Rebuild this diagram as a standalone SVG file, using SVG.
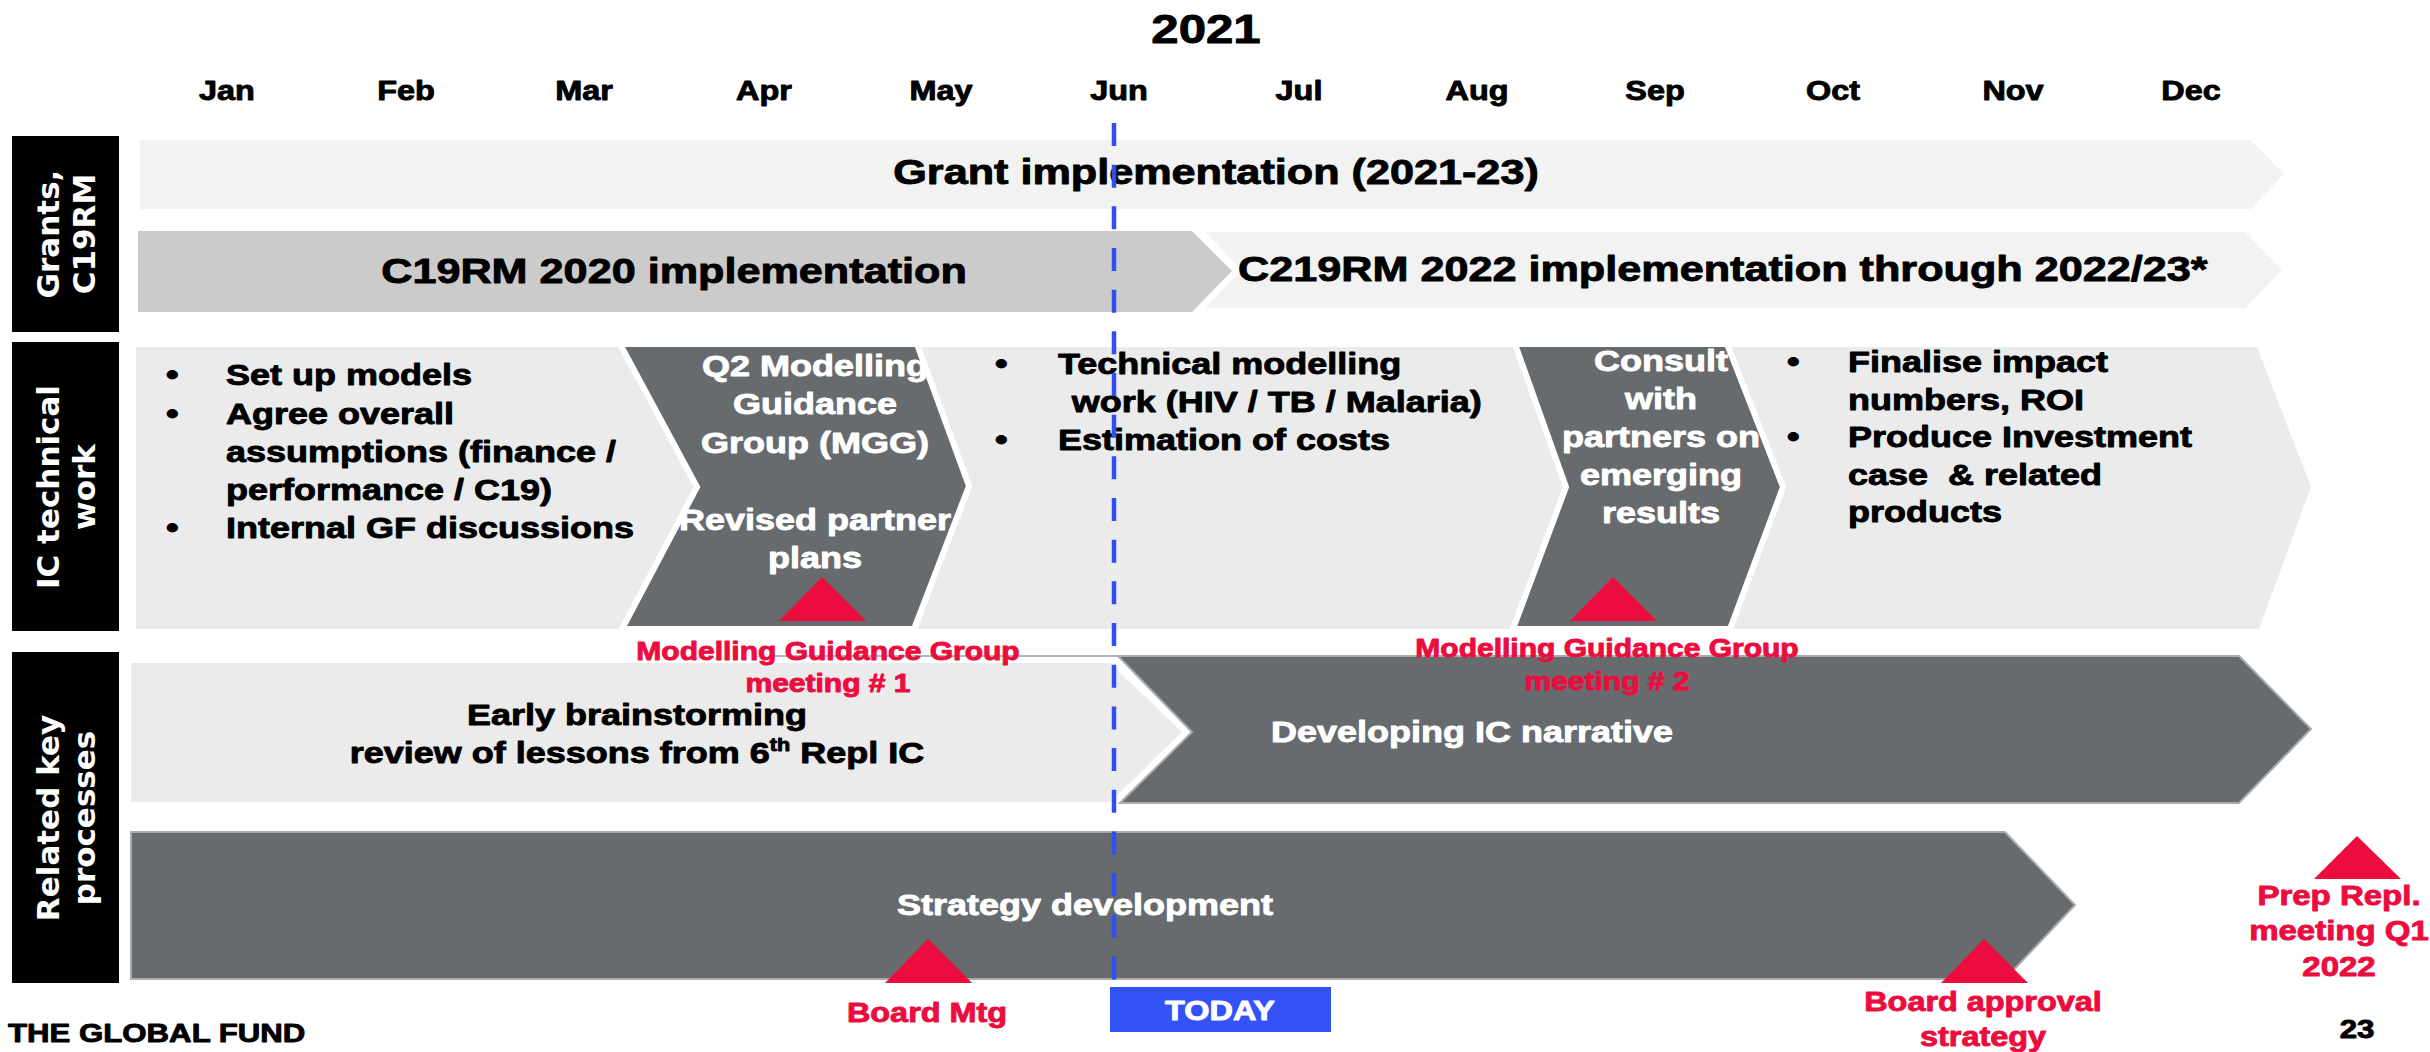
<svg xmlns="http://www.w3.org/2000/svg" width="2430" height="1052" viewBox="0 0 2430 1052">
<style>
.t{font-family:"Liberation Sans",Arial,sans-serif;font-weight:bold;stroke-width:0.9px;stroke-linejoin:round;}
.k{fill:#000;stroke:#000;}
.w{fill:#fff;stroke:#fff;}
.r{fill:#ec0c3e;stroke:#ec0c3e;}
.v{font-family:"DejaVu Sans",Verdana,sans-serif;font-weight:bold;font-size:31px;fill:#fff;}
.lbl{fill:#000;}
.lt{fill:#f2f2f2;}
.lt2{fill:#ebebeb;}
.md{fill:#cbcbcb;}
.chev{fill:#686b6e;stroke:#fff;stroke-width:6;stroke-linejoin:miter;}
.dka{fill:#686b6e;stroke:#a9abad;stroke-width:2;}
.tri{fill:#ec0c3e;}
.m{font-size:27px;}
</style>
<rect width="2430" height="1052" fill="#fff"/>

<g id="header">
<text class="t k" font-size="41" text-anchor="middle" transform="translate(1206,43) scale(1.2,1)">2021</text>
<g class="t k m" text-anchor="middle">
<text transform="translate(227,100) scale(1.2,1)">Jan</text>
<text transform="translate(406,100) scale(1.2,1)">Feb</text>
<text transform="translate(584,100) scale(1.2,1)">Mar</text>
<text transform="translate(764,100) scale(1.2,1)">Apr</text>
<text transform="translate(941,100) scale(1.2,1)">May</text>
<text transform="translate(1119,100) scale(1.2,1)">Jun</text>
<text transform="translate(1299,100) scale(1.2,1)">Jul</text>
<text transform="translate(1477,100) scale(1.2,1)">Aug</text>
<text transform="translate(1655,100) scale(1.2,1)">Sep</text>
<text transform="translate(1833,100) scale(1.2,1)">Oct</text>
<text transform="translate(2013,100) scale(1.2,1)">Nov</text>
<text transform="translate(2191,100) scale(1.2,1)">Dec</text>
</g>
</g>

<g id="label-grants">
<rect class="lbl" x="12" y="136" width="107" height="196"/>
<text class="v" text-anchor="middle" transform="translate(66,234) rotate(-90)"><tspan x="0" y="-7">Grants,</tspan><tspan x="0" y="29">C19RM</tspan></text>
</g>
<g id="label-ic">
<rect class="lbl" x="12" y="342" width="107" height="289"/>
<text class="v" text-anchor="middle" transform="translate(66,487) rotate(-90)"><tspan x="0" y="-7">IC technical</tspan><tspan x="0" y="29">work</tspan></text>
</g>
<g id="label-related">
<rect class="lbl" x="12" y="652" width="107" height="331"/>
<text class="v" text-anchor="middle" transform="translate(66,818) rotate(-90)"><tspan x="0" y="-7">Related key</tspan><tspan x="0" y="29">processes</tspan></text>
</g>

<g id="grant-implementation">
<polygon class="lt" points="140,140 2251,140 2284,174 2251,209 140,209"/>
<text class="t k" font-size="36" text-anchor="middle" transform="translate(1216,184) scale(1.2,1)">Grant implementation (2021-23)</text>
</g>

<g id="c19rm-2020">
<polygon class="md" points="138,231 1192,231 1232,271 1192,312 138,312"/>
<text class="t k" font-size="36" text-anchor="middle" transform="translate(674,283) scale(1.2,1)">C19RM 2020 implementation</text>
</g>

<g id="c219rm-2022">
<polygon class="lt" points="1205,232 2245,232 2282,270 2245,308 1205,308 1242,270"/>
<text class="t k" font-size="36" transform="translate(1238,281) scale(1.2,1)">C219RM 2022 implementation through 2022/23*</text>
</g>

<g id="ic-background">
<polygon class="lt2" points="136,347 2257,347 2311,487 2259,629 136,629"/>
</g>

<g id="ic-setup">
<text class="t k" font-size="30" transform="translate(166,0) scale(1.2,1)"><tspan x="0" y="385">•</tspan><tspan x="0" y="424">•</tspan><tspan x="0" y="538">•</tspan></text>
<text class="t k" font-size="30" transform="translate(226,0) scale(1.2,1)"><tspan x="0" y="385">Set up models</tspan><tspan x="0" y="424">Agree overall</tspan><tspan x="0" y="462">assumptions (finance /</tspan><tspan x="0" y="500">performance / C19)</tspan><tspan x="0" y="538">Internal GF discussions</tspan></text>
</g>

<g id="ic-mgg">
<polygon class="chev" points="620,344 917,344 969,486 914,629 622,629 697,487"/>
<text class="t w" font-size="30" text-anchor="middle" transform="translate(815,0) scale(1.2,1)"><tspan x="0" y="376">Q2 Modelling</tspan><tspan x="0" y="414">Guidance</tspan><tspan x="0" y="453">Group (MGG)</tspan><tspan x="0" y="530">Revised partner</tspan><tspan x="0" y="568">plans</tspan></text>
<polygon class="tri" points="822,577 866,621 779,621"/>
</g>

<g id="ic-modelling">
<text class="t k" font-size="30" transform="translate(995,0) scale(1.2,1)"><tspan x="0" y="374">•</tspan><tspan x="0" y="450">•</tspan></text>
<text class="t k" font-size="30" transform="translate(1058,0) scale(1.2,1)"><tspan x="0" y="374">Technical modelling</tspan><tspan x="11.5" y="412">work (HIV / TB / Malaria)</tspan><tspan x="0" y="450">Estimation of costs</tspan></text>
</g>

<g id="ic-consult">
<polygon class="chev" points="1515,344 1727,344 1783,487 1730,629 1513,629 1566,487"/>
<text class="t w" font-size="30" text-anchor="middle" transform="translate(1661,0) scale(1.2,1)"><tspan x="0" y="371">Consult</tspan><tspan x="0" y="409">with</tspan><tspan x="0" y="447">partners on</tspan><tspan x="0" y="485">emerging</tspan><tspan x="0" y="523">results</tspan></text>
<polygon class="tri" points="1613,577 1657,621 1570,621"/>
</g>

<g id="ic-finalise">
<text class="t k" font-size="30" transform="translate(1787,0) scale(1.2,1)"><tspan x="0" y="372">•</tspan><tspan x="0" y="447">•</tspan></text>
<text class="t k" font-size="30" transform="translate(1848,0) scale(1.2,1)"><tspan x="0" y="372">Finalise impact</tspan><tspan x="0" y="410">numbers, ROI</tspan><tspan x="0" y="447">Produce Investment</tspan><tspan x="0" y="485">case&#160; &amp; related</tspan><tspan x="0" y="522">products</tspan></text>
</g>

<g id="early-brainstorming">
<polygon class="lt2" points="131,663 1110,663 1182,732 1110,802 131,802"/>
<text class="t k" font-size="30" text-anchor="middle" transform="translate(637,0) scale(1.2,1)"><tspan x="0" y="725">Early brainstorming</tspan><tspan x="0" y="763">review of lessons from 6<tspan font-size="18" dy="-12">th</tspan><tspan dy="12"> Repl IC</tspan></tspan></text>
</g>

<g id="developing-narrative">
<line x1="770" y1="656" x2="1118" y2="656" stroke="#b4b6b8" stroke-width="2"/>
<polygon class="dka" points="1118,656 2239,656 2311,729 2239,803 1120,803 1192,732"/>
<text class="t w" font-size="30" transform="translate(1271,742) scale(1.2,1)">Developing IC narrative</text>
</g>

<g id="mgg-meeting-1">
<text class="t r" font-size="25" text-anchor="middle" transform="translate(828,0) scale(1.2,1)"><tspan x="0" y="660">Modelling Guidance Group</tspan><tspan x="0" y="692">meeting # 1</tspan></text>
</g>
<g id="mgg-meeting-2">
<text class="t r" font-size="25" text-anchor="middle" transform="translate(1607,0) scale(1.2,1)"><tspan x="0" y="657">Modelling Guidance Group</tspan><tspan x="0" y="690">meeting # 2</tspan></text>
</g>

<g id="strategy-development">
<polygon class="dka" points="131,832 2005,832 2075,905 2005,979 131,979"/>
<text class="t w" font-size="30" text-anchor="middle" transform="translate(1085,915) scale(1.2,1)">Strategy development</text>
</g>

<g id="board-mtg">
<polygon class="tri" points="928,939 972,983 885,983"/>
<text class="t r" font-size="27" text-anchor="middle" transform="translate(927,1022) scale(1.2,1)">Board Mtg</text>
</g>

<g id="board-approval">
<polygon class="tri" points="1984,939 2028,983 1941,983"/>
<text class="t r" font-size="27" text-anchor="middle" transform="translate(1983,0) scale(1.2,1)"><tspan x="0" y="1011">Board approval</tspan><tspan x="0" y="1046">strategy</tspan></text>
</g>

<g id="prep-repl">
<polygon class="tri" points="2357,836 2401,879 2314,879"/>
<text class="t r" font-size="27.5" text-anchor="middle" transform="translate(2339,0) scale(1.2,1)"><tspan x="0" y="905">Prep Repl.</tspan><tspan x="0" y="940">meeting Q1</tspan><tspan x="0" y="976">2022</tspan></text>
</g>

<g id="today-line">
<line x1="1114" y1="123" x2="1114" y2="987" stroke="#2f4ff0" stroke-width="4.5" stroke-dasharray="23 18.67"/>
</g>

<g id="today">
<rect x="1110" y="987" width="221" height="45" fill="#3352f7"/>
<text class="t w" font-size="27" text-anchor="middle" transform="translate(1220,1020) scale(1.2,1)">TODAY</text>
</g>

<g id="footer">
<text class="t k" font-size="26" transform="translate(8,1042) scale(1.2,1)">THE GLOBAL FUND</text>
<text class="t k" font-size="26" text-anchor="middle" transform="translate(2357,1038) scale(1.2,1)">23</text>
</g>
</svg>
